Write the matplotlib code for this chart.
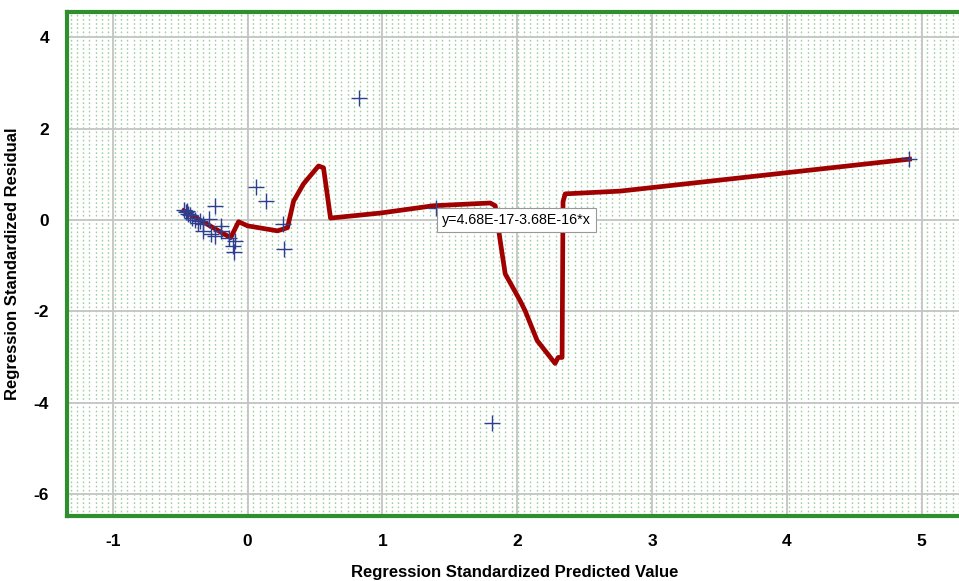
import matplotlib.pyplot as plt
import numpy as np

# scatter points (standardized predicted, standardized residual)
pred = [-0.47, -0.46, -0.45, -0.44, -0.43, -0.41, -0.39, -0.37, -0.35, -0.33, -0.33,
        -0.29, -0.27, -0.24, -0.24, -0.20, -0.20, -0.14, -0.11, -0.09, -0.10,
        0.06, 0.14, 0.26, 0.27, 0.83, 1.40, 1.81, 4.91]
resid = [0.22, 0.18, 0.20, 0.13, 0.10, 0.04, 0.00, -0.07, -0.02, -0.09, -0.24,
         0.02, -0.31, 0.31, -0.35, -0.24, -0.13, -0.39, -0.57, -0.46, -0.70,
         0.72, 0.41, -0.09, -0.63, 2.66, 0.26, -4.45, 1.33]

# fit curve
fit_x = [-0.474, -0.126, -0.067, 0.0, 0.222, 0.296, 0.341, 0.415, 0.526, 0.563,
         0.615, 0.985, 1.378, 1.80, 1.837, 1.874, 1.911, 2.022, 2.059, 2.148,
         2.281, 2.304, 2.333, 2.340, 2.356, 2.763, 4.911]
fit_y = [0.20, -0.39, -0.04, -0.13, -0.24, -0.17, 0.41, 0.79, 1.18, 1.14,
         0.04, 0.15, 0.31, 0.37, 0.31, -0.46, -1.18, -1.77, -1.99, -2.64,
         -3.14, -3.01, -3.01, 0.40, 0.57, 0.63, 1.33]

eq_label = "y=4.68E-17-3.68E-16*x"

plt.rcParams['font.family'] = ['Liberation Sans', 'DejaVu Sans']
plt.rcParams['axes.unicode_minus'] = False

fig = plt.figure(figsize=(9.59, 5.81), dpi=100)
ax = fig.add_axes([67 / 959, 1 - 516 / 581, (962 - 67) / 959, (516 - 12) / 581])

ax.set_xlim(-1.34, 5.30)
ax.set_ylim(-6.48, 4.55)

# dotted green background pattern (decoration only)
for fx in np.arange(0.004, 1.0, 6.3 / 895):
    ax.plot([fx, fx], [0, 1], color='#9dcf9d', lw=1.0, ls=(0, (1.2, 1.8)),
            transform=ax.transAxes, zorder=0.5)

ax.set_xticks([-1, 0, 1, 2, 3, 4, 5])
ax.set_yticks([4, 2, 0, -2, -4, -6])
ax.grid(True, color='#c4c4c4', lw=1.3, zorder=0.8)
ax.set_axisbelow(True)

ax.plot(fit_x, fit_y, color='#a00000', lw=3.4, zorder=3, solid_joinstyle='round')
ax.scatter(pred, resid, marker='+', s=120, color='#2e3f90', linewidths=1.0, zorder=4)

ax.text(1.44, 0.0, eq_label, fontsize=10.3, va='center', ha='left', zorder=5,
        bbox=dict(boxstyle='square,pad=0.35', fc='white', ec='#999999', lw=0.8))

for side in ax.spines.values():
    side.set_color('#2f8f2f')
    side.set_linewidth(3)

ax.tick_params(length=0, labelsize=12.5, pad=13)
for lab in ax.get_xticklabels() + ax.get_yticklabels():
    lab.set_fontweight('bold')

ax.set_xlabel('Regression Standardized Predicted Value', fontsize=12, fontweight='bold')
ax.set_ylabel('Regression Standardized Residual', fontsize=12, fontweight='bold')
ax.xaxis.set_label_coords(0.5, -0.098)
ax.yaxis.set_label_coords(-0.053, 0.5)

fig.savefig('out.png', dpi=100)
